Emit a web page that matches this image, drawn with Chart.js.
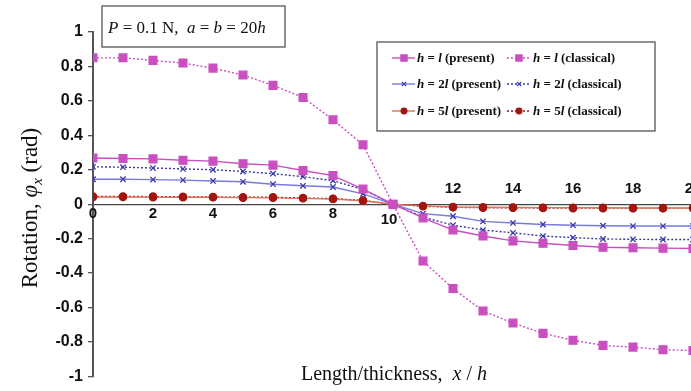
<!DOCTYPE html>
<html>
<head>
<meta charset="utf-8">
<script src="https://cdn.jsdelivr.net/npm/chart.js@4.4.1/dist/chart.umd.min.js"></script>
<style>
html,body{margin:0;padding:0;background:#fff;overflow:hidden;}
canvas{display:block;}
</style>
</head>
<body>
<canvas id="c" width="700" height="391"></canvas>
<script>
// ---- data ----
const xValues = [0,1,2,3,4,5,6,7,8,9,10,11,12,13,14,15,16,17,18,19,20];
const presentL    = [0.268,0.265,0.263,0.255,0.25,0.235,0.227,0.196,0.166,0.088,0,-0.08,-0.15,-0.185,-0.213,-0.227,-0.24,-0.25,-0.253,-0.255,-0.257];
const classicalL  = [0.85,0.85,0.835,0.82,0.79,0.75,0.69,0.62,0.49,0.345,0,-0.33,-0.49,-0.62,-0.69,-0.75,-0.79,-0.82,-0.83,-0.845,-0.85];
const present2L   = [0.145,0.145,0.143,0.14,0.135,0.13,0.116,0.107,0.1,0.06,0,-0.055,-0.07,-0.1,-0.109,-0.118,-0.122,-0.125,-0.127,-0.127,-0.127];
const classical2L = [0.217,0.215,0.21,0.205,0.2,0.19,0.177,0.16,0.137,0.085,0,-0.075,-0.122,-0.15,-0.166,-0.185,-0.194,-0.202,-0.204,-0.205,-0.205];
const present5L   = [0.042,0.042,0.041,0.04,0.04,0.038,0.037,0.034,0.03,0.02,0,-0.01,-0.016,-0.018,-0.019,-0.02,-0.021,-0.021,-0.022,-0.022,-0.022];
const classical5L = [0.045,0.045,0.044,0.043,0.042,0.04,0.04,0.036,0.032,0.022,0,-0.012,-0.018,-0.02,-0.021,-0.022,-0.023,-0.023,-0.023,-0.023,-0.023];
const seriesLabels = ['_h_ = _l_ (present)','_h_ = _l_ (classical)','_h_ = 2_l_ (present)','_h_ = 2_l_ (classical)','_h_ = 5_l_ (present)','_h_ = 5_l_ (classical)'];
const xTickLabels = [0,2,4,6,8,10,12,14,16,18,20];
const yTickLabels = [1,0.8,0.6,0.4,0.2,0,-0.2,-0.4,-0.6,-0.8,-1];
const annotationText = '_P_ = 0.1 N,  _a_ = _b_ = 20_h_';
const xTitleText = 'Length/thickness,  _x_ / _h_';

const toPts = arr => arr.map((v,i)=>({x:xValues[i], y:v}));
const MAG='#c94fc0', BLUE_L='#7b78e0', BLUE_D='#3a3aa8', RED='#a3160f', RED_L='#d9735a';

function ds(label, data, color, ptColor, style, radius, dashed){
  return {label, data:toPts(data), borderColor:color, backgroundColor:ptColor, pointBackgroundColor:ptColor,
    pointBorderColor:ptColor, pointStyle:style, pointRadius:radius, pointHoverRadius:radius, pointBorderWidth:1.3,
    borderWidth:1.4, borderDash: dashed?[2,2]:[], tension:0, fill:false};
}
const datasets = [
  ds(seriesLabels[0], presentL, MAG, MAG, 'rect', 5.5, false),
  ds(seriesLabels[1], classicalL, MAG, MAG, 'rect', 5.5, true),
  ds(seriesLabels[2], present2L, BLUE_L, BLUE_D, 'crossRot', 3.8, false),
  ds(seriesLabels[3], classical2L, BLUE_D, BLUE_D, 'crossRot', 3.8, true),
  ds(seriesLabels[4], present5L, RED_L, RED, 'circle', 3.6, false),
  ds(seriesLabels[5], classical5L, RED, RED, 'circle', 3.6, true),
];

// rich text: _x_ = italic
function richParts(str){
  const parts=[]; const re=/_([^_]+)_/g; let last=0, m;
  while((m=re.exec(str))){ if(m.index>last) parts.push({t:str.slice(last,m.index),i:false}); parts.push({t:m[1],i:true}); last=re.lastIndex; }
  if(last<str.length) parts.push({t:str.slice(last),i:false});
  return parts;
}
function drawRich(ctx, str, x, y, size, family, weight){
  let cx=x;
  for(const p of richParts(str)){
    ctx.font=(p.i?'italic ':'')+weight+' '+size+'px '+family;
    ctx.fillText(p.t,cx,y); cx+=ctx.measureText(p.t).width;
  }
  return cx-x;
}
function richWidth(ctx,str,size,family,weight){
  let w=0; for(const p of richParts(str)){ctx.font=(p.i?'italic ':'')+weight+' '+size+'px '+family; w+=ctx.measureText(p.t).width;} return w;
}

const decor = {
  id:'decor',
  afterDraw(chart){
    const ctx=chart.ctx, xs=chart.scales.x, ys=chart.scales.y;
    const SERIF='"Liberation Serif", "Times New Roman", serif';
    ctx.save();
    ctx.fillStyle='#111'; ctx.textBaseline='middle'; ctx.textAlign='center';
    // x tick labels
    ctx.font='bold 15px "Liberation Sans", Arial, sans-serif';
    const y0=ys.getPixelForValue(0);
    xTickLabels.forEach(v=>{
      const px=xs.getPixelForValue(v);
      let py, dx=0;
      if(v<10) py=y0+10; else if(v===10){py=y0+16; dx=-4;} else py=y0-15;
      ctx.fillText(String(v),px+dx,py);
    });
    // x title
    ctx.textAlign='left'; ctx.textBaseline='alphabetic'; ctx.fillStyle='#111';
    const tw=richWidth(ctx,xTitleText,20,SERIF,'normal');
    drawRich(ctx,xTitleText,394-tw/2,380,20,SERIF,'normal');
    // y title (rotated)
    ctx.save();
    ctx.translate(37,208); ctx.rotate(-Math.PI/2);
    const segs=[['Rotation, ','normal 23px',0],['φ','italic 23px',0],['x','italic 15px',5],[' (rad)','normal 23px',0]];
    let total=0; segs.forEach(s=>{ctx.font=s[1]+' '+SERIF; total+=ctx.measureText(s[0]).width;});
    let cx=-total/2;
    segs.forEach(s=>{ctx.font=s[1]+' '+SERIF; ctx.fillText(s[0],cx,s[2]); cx+=ctx.measureText(s[0]).width;});
    ctx.restore();
    // annotation box
    ctx.fillStyle='#fff'; ctx.strokeStyle='#555'; ctx.lineWidth=1.3;
    ctx.fillRect(102,6,183,41); ctx.strokeRect(102,6,183,41);
    ctx.fillStyle='#111';
    drawRich(ctx,annotationText,108,33,17,SERIF,'normal');
    // legend
    ctx.fillStyle='#fff'; ctx.fillRect(377,42,278,89); ctx.strokeStyle='#555'; ctx.strokeRect(377,42,278,89);
    const rowsY=[58,84,111], colLine=[392,507], colText=[417,533];
    chart.data.datasets.forEach((d,i)=>{
      const r=Math.floor(i/2), c=i%2, ly=rowsY[r], lx=colLine[c];
      ctx.save();
      ctx.strokeStyle=d.borderColor; ctx.lineWidth=d.borderWidth; ctx.setLineDash(d.borderDash);
      ctx.beginPath(); ctx.moveTo(lx,ly); ctx.lineTo(lx+23,ly); ctx.stroke();
      ctx.setLineDash([]);
      ctx.fillStyle=d.pointBackgroundColor; ctx.strokeStyle=d.pointBorderColor; ctx.lineWidth=1.2;
      Chart.helpers.drawPoint(ctx,{pointStyle:d.pointStyle,rotation:0,borderWidth:1.2,radius:d.pointRadius*0.8}, lx+12, ly);
      ctx.restore();
      ctx.fillStyle='#111'; ctx.textBaseline='middle';
      drawRich(ctx,d.label,colText[c],ly+1,13,SERIF,'bold');
    });
    ctx.restore();
  }
};

new Chart(document.getElementById('c'), {
  type:'line',
  data:{datasets},
  options:{
    responsive:false, animation:false,
    layout:{padding:{left:0,right:7,top:32,bottom:10}},
    plugins:{legend:{display:false}, tooltip:{enabled:false}},
    scales:{
      x:{type:'linear', min:0, max:20, position:{y:0},
        ticks:{display:false}, grid:{display:false},
        border:{display:true,color:'#444',width:1.3},
        afterFit:s=>{s.height=0;}},
      y:{type:'linear', min:-1, max:1, position:'left',
        afterBuildTicks:s=>{s.ticks=yTickLabels.map(v=>({value:v}));},
        ticks:{color:'#111', font:{family:'"Liberation Sans", Arial, sans-serif', size:16, weight:'bold'}, padding:5,
          callback:v=>String(v)},
        grid:{display:true, drawOnChartArea:false, drawTicks:true, tickLength:5, color:'#555', lineWidth:1.3},
        border:{display:true,color:'#555',width:2},
        afterFit:s=>{s.width=93;}}
    }
  },
  plugins:[decor]
});
</script>
</body>
</html>
